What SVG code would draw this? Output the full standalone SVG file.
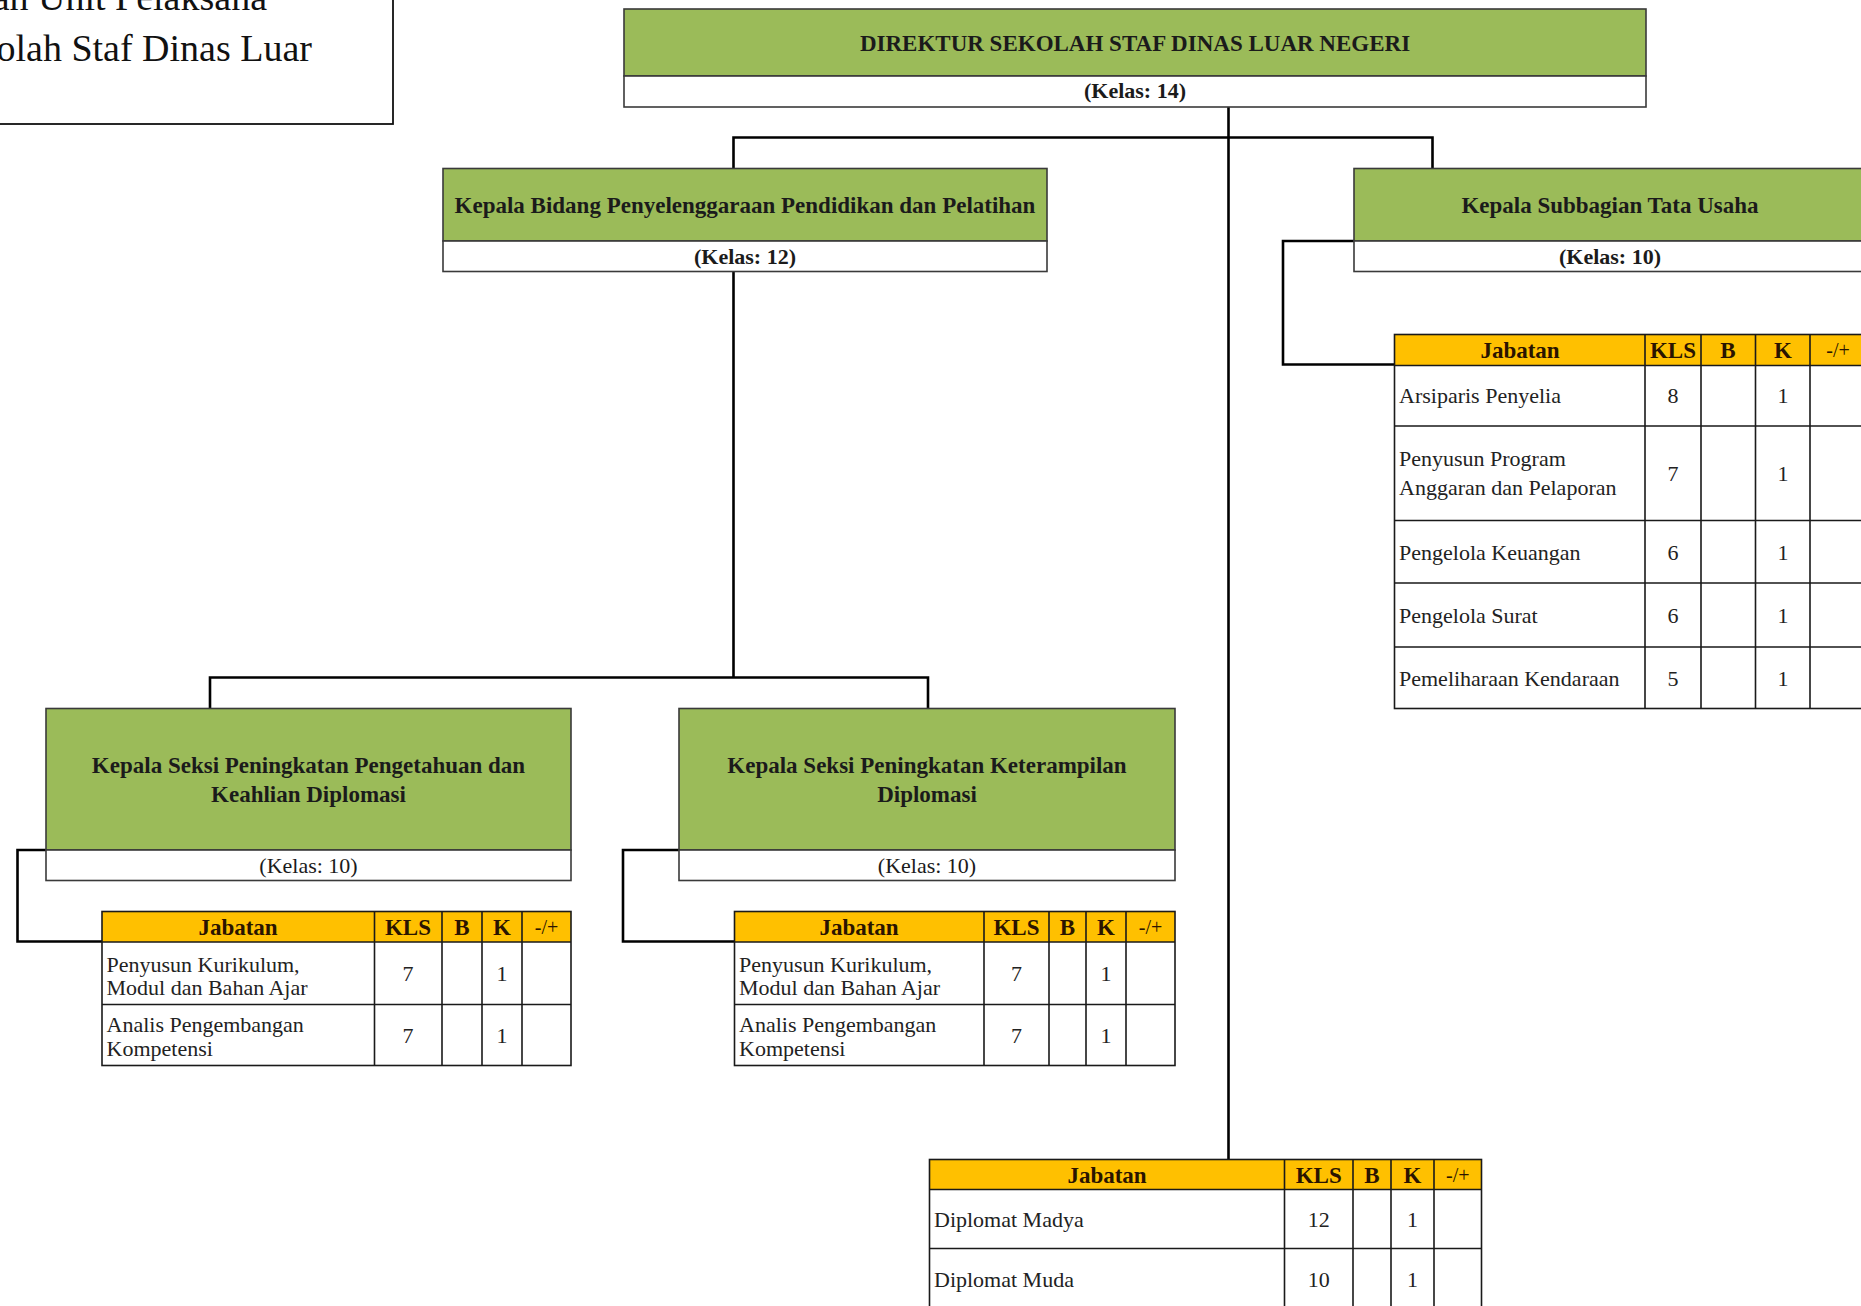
<svg xmlns="http://www.w3.org/2000/svg" width="1861" height="1306" viewBox="0 0 1861 1306">
<style>
  .bx{stroke:#3a3a3a;stroke-width:1.6}
  .green{fill:#9BBB59}
  .white{fill:#ffffff}
  .hdr{fill:#FFC000}
  .ln{stroke:#1a1a1a;stroke-width:1.6;fill:none}
  .conn{fill:none;stroke:#000;stroke-width:2.6}
  .tt{font-family:"Liberation Serif","Times New Roman",serif;font-weight:bold;font-size:23px;fill:#1b1b1b;text-anchor:middle}
  .kb{font-family:"Liberation Serif","Times New Roman",serif;font-weight:bold;font-size:22px;fill:#1b1b1b;text-anchor:middle}
  .kr{font-family:"Liberation Serif","Times New Roman",serif;font-size:22px;fill:#1b1b1b;text-anchor:middle}
  .th{font-family:"Liberation Serif","Times New Roman",serif;font-weight:bold;font-size:23px;fill:#2a1400;text-anchor:middle}
  .ths{font-family:"Liberation Serif","Times New Roman",serif;font-size:20px;fill:#2a1400;text-anchor:middle}
  .td{font-family:"Liberation Serif","Times New Roman",serif;font-size:22px;fill:#222}
  .tn{font-family:"Liberation Serif","Times New Roman",serif;font-size:22px;fill:#222;text-anchor:middle}
  .cap{font-family:"Liberation Serif","Times New Roman",serif;font-size:38px;fill:#111;text-anchor:end}
</style>

<g id="caption">
  <rect x="-10" y="-10" width="403" height="134" fill="#fff" stroke="#111" stroke-width="1.8"/>
  <text class="cap" x="267" y="10">an Unit Pelaksana</text>
  <text class="cap" x="312" y="61">olah Staf Dinas Luar</text>
</g>

<g id="connectors">
  <path class="conn" d="M1228.5,107 V1159.5"/>
  <path class="conn" d="M733.5,168.5 V137.5 H1432.5 V168.5"/>
  <path class="conn" d="M733.5,271.5 V677.5"/>
  <path class="conn" d="M210,708.5 V677.5 H928 V708.5"/>
  <path class="conn" d="M1354,241 H1283 V364.5 H1394.5"/>
  <path class="conn" d="M46,850 H17.5 V941.5 H102"/>
  <path class="conn" d="M679,850 H623 V941.5 H734.5"/>
</g>

<g id="direktur">
  <rect class="bx green" x="624" y="9" width="1022" height="67"/>
  <rect class="bx white" x="624" y="76" width="1022" height="31"/>
  <text class="tt" x="1135" y="51">DIREKTUR SEKOLAH STAF DINAS LUAR NEGERI</text>
  <text class="kb" x="1135" y="98">(Kelas: 14)</text>
</g>

<g id="kabid">
  <rect class="bx green" x="443" y="168.5" width="604" height="72.5"/>
  <rect class="bx white" x="443" y="241" width="604" height="30.5"/>
  <text class="tt" x="745" y="213">Kepala Bidang Penyelenggaraan Pendidikan dan Pelatihan</text>
  <text class="kb" x="745" y="264">(Kelas: 12)</text>
</g>

<g id="kasubag">
  <rect class="bx green" x="1354" y="168.5" width="512" height="72.5"/>
  <rect class="bx white" x="1354" y="241" width="512" height="30.5"/>
  <text class="tt" x="1610" y="213">Kepala Subbagian Tata Usaha</text>
  <text class="kb" x="1610" y="264">(Kelas: 10)</text>
</g>

<g id="kasi1">
  <rect class="bx green" x="46" y="708.5" width="525" height="141.5"/>
  <rect class="bx white" x="46" y="850" width="525" height="30.5"/>
  <text class="tt" x="308.5" y="773">Kepala Seksi Peningkatan Pengetahuan dan</text>
  <text class="tt" x="308.5" y="802">Keahlian Diplomasi</text>
  <text class="kr" x="308.5" y="873">(Kelas: 10)</text>
</g>

<g id="kasi2">
  <rect class="bx green" x="679" y="708.5" width="496" height="141.5"/>
  <rect class="bx white" x="679" y="850" width="496" height="30.5"/>
  <text class="tt" x="927" y="773">Kepala Seksi Peningkatan Keterampilan</text>
  <text class="tt" x="927" y="802">Diplomasi</text>
  <text class="kr" x="927" y="873">(Kelas: 10)</text>
</g>

<g id="tabel-tu">
  <rect class="hdr" x="1394.5" y="334.5" width="472" height="31"/>
  <rect class="white" x="1394.5" y="365.5" width="472" height="343"/>
  <rect class="ln" x="1394.5" y="334.5" width="472" height="374"/>
  <path class="ln" d="M1394.5,365.5 H1866 M1394.5,426 H1866 M1394.5,520.5 H1866 M1394.5,583 H1866 M1394.5,647 H1866 M1645,334.5 V708.5 M1701,334.5 V708.5 M1755.5,334.5 V708.5 M1810,334.5 V708.5"/>
  <text class="th" x="1520" y="358">Jabatan</text>
  <text class="th" x="1673" y="358">KLS</text>
  <text class="th" x="1728" y="358">B</text>
  <text class="th" x="1783" y="358">K</text>
  <text class="ths" x="1838" y="357">-/+</text>
  <text class="td" x="1399" y="403">Arsiparis Penyelia</text>
  <text class="tn" x="1673" y="403">8</text>
  <text class="tn" x="1783" y="403">1</text>
  <text class="td" x="1399" y="466">Penyusun Program</text>
  <text class="td" x="1399" y="495">Anggaran dan Pelaporan</text>
  <text class="tn" x="1673" y="481">7</text>
  <text class="tn" x="1783" y="481">1</text>
  <text class="td" x="1399" y="559.5">Pengelola Keuangan</text>
  <text class="tn" x="1673" y="559.5">6</text>
  <text class="tn" x="1783" y="559.5">1</text>
  <text class="td" x="1399" y="623">Pengelola Surat</text>
  <text class="tn" x="1673" y="623">6</text>
  <text class="tn" x="1783" y="623">1</text>
  <text class="td" x="1399" y="685.5">Pemeliharaan Kendaraan</text>
  <text class="tn" x="1673" y="685.5">5</text>
  <text class="tn" x="1783" y="685.5">1</text>
</g>

<g id="tabel-seksi1">
  <rect class="hdr" x="102" y="911.5" width="469" height="30.5"/>
  <rect class="white" x="102" y="942" width="469" height="123.5"/>
  <rect class="ln" x="102" y="911.5" width="469" height="154"/>
  <path class="ln" d="M102,942 H571 M102,1004.5 H571 M374.5,911.5 V1065.5 M442,911.5 V1065.5 M482,911.5 V1065.5 M522,911.5 V1065.5"/>
  <text class="th" x="238" y="935">Jabatan</text>
  <text class="th" x="408" y="935">KLS</text>
  <text class="th" x="462" y="935">B</text>
  <text class="th" x="502" y="935">K</text>
  <text class="ths" x="546.5" y="934">-/+</text>
  <text class="td" x="106.5" y="971.5">Penyusun Kurikulum,</text>
  <text class="td" x="106.5" y="994.5">Modul dan Bahan Ajar</text>
  <text class="tn" x="408" y="981">7</text>
  <text class="tn" x="502" y="981">1</text>
  <text class="td" x="106.5" y="1032">Analis Pengembangan</text>
  <text class="td" x="106.5" y="1055.5">Kompetensi</text>
  <text class="tn" x="408" y="1043">7</text>
  <text class="tn" x="502" y="1043">1</text>
</g>

<g id="tabel-seksi2">
  <rect class="hdr" x="734.5" y="911.5" width="440.5" height="30.5"/>
  <rect class="white" x="734.5" y="942" width="440.5" height="123.5"/>
  <rect class="ln" x="734.5" y="911.5" width="440.5" height="154"/>
  <path class="ln" d="M734.5,942 H1175 M734.5,1004.5 H1175 M984,911.5 V1065.5 M1049,911.5 V1065.5 M1086,911.5 V1065.5 M1126,911.5 V1065.5"/>
  <text class="th" x="859" y="935">Jabatan</text>
  <text class="th" x="1016.5" y="935">KLS</text>
  <text class="th" x="1067.5" y="935">B</text>
  <text class="th" x="1106" y="935">K</text>
  <text class="ths" x="1150.5" y="934">-/+</text>
  <text class="td" x="739" y="971.5">Penyusun Kurikulum,</text>
  <text class="td" x="739" y="994.5">Modul dan Bahan Ajar</text>
  <text class="tn" x="1016.5" y="981">7</text>
  <text class="tn" x="1106" y="981">1</text>
  <text class="td" x="739" y="1032">Analis Pengembangan</text>
  <text class="td" x="739" y="1055.5">Kompetensi</text>
  <text class="tn" x="1016.5" y="1043">7</text>
  <text class="tn" x="1106" y="1043">1</text>
</g>

<g id="tabel-direktur">
  <rect class="hdr" x="929.5" y="1159.5" width="552" height="30"/>
  <rect class="white" x="929.5" y="1189.5" width="552" height="130"/>
  <rect class="ln" x="929.5" y="1159.5" width="552" height="160"/>
  <path class="ln" d="M929.5,1189.5 H1481.5 M929.5,1248.5 H1481.5 M1284.5,1159.5 V1320 M1353,1159.5 V1320 M1391,1159.5 V1320 M1434,1159.5 V1320"/>
  <text class="th" x="1107" y="1182.5">Jabatan</text>
  <text class="th" x="1318.75" y="1182.5">KLS</text>
  <text class="th" x="1372" y="1182.5">B</text>
  <text class="th" x="1412.5" y="1182.5">K</text>
  <text class="ths" x="1457.75" y="1181.5">-/+</text>
  <text class="td" x="934" y="1226.5">Diplomat Madya</text>
  <text class="tn" x="1318.75" y="1226.5">12</text>
  <text class="tn" x="1412.5" y="1226.5">1</text>
  <text class="td" x="934" y="1287">Diplomat Muda</text>
  <text class="tn" x="1318.75" y="1287">10</text>
  <text class="tn" x="1412.5" y="1287">1</text>
</g>
</svg>
